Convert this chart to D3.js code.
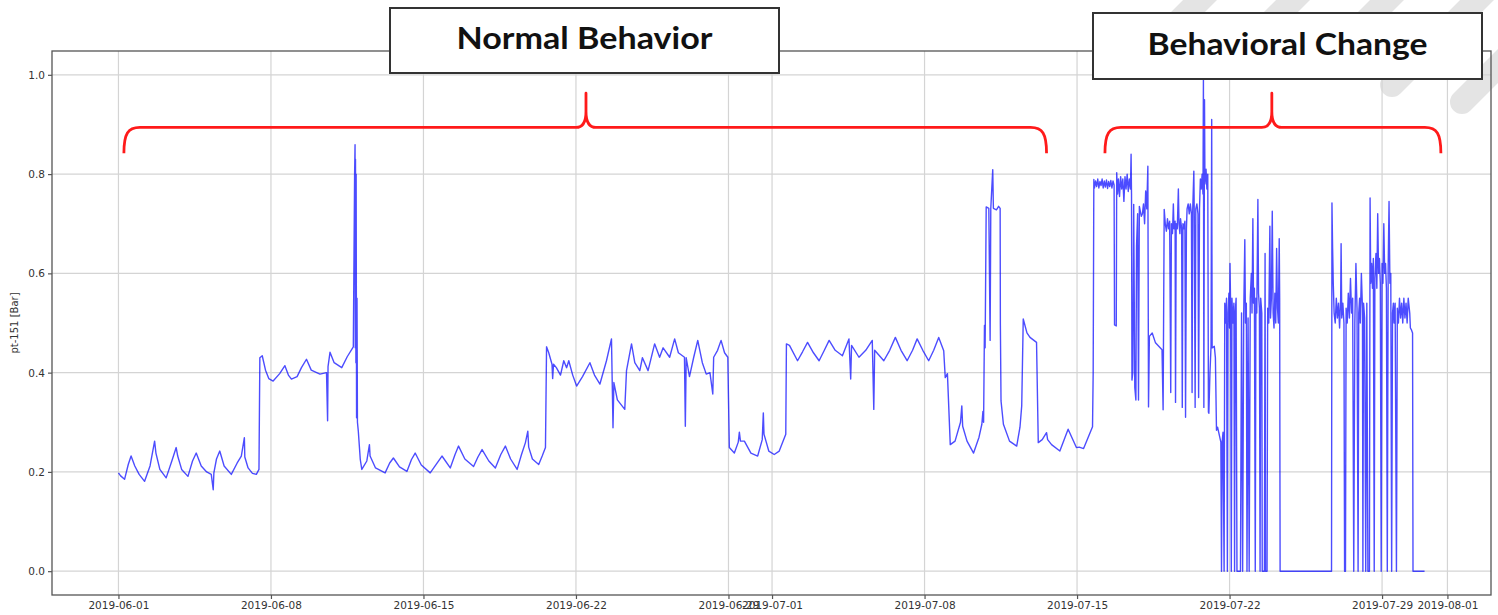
<!DOCTYPE html>
<html>
<head>
<meta charset="utf-8">
<script src="https://cdn.jsdelivr.net/npm/d3@7"></script>
<style>
  body { margin: 0; background: #fff; }
  svg { display: block; }
</style>
</head>
<body>
<svg width="1498" height="615"></svg>
<script>
const svg = d3.select("svg");

// DATA: [days since 2019-06-01, pt-151 value]
const normalPhase = [
  [0.00,0.198],[0.10,0.192],[0.28,0.185],[0.45,0.215],[0.58,0.232],[0.75,0.212],[0.95,0.195],[1.20,0.181],
  [1.45,0.212],[1.66,0.262],[1.72,0.238],[1.90,0.205],[2.19,0.188],[2.45,0.222],[2.65,0.249],[2.72,0.232],
  [2.90,0.205],[3.19,0.191],[3.40,0.222],[3.57,0.238],[3.80,0.212],[4.05,0.200],[4.26,0.195],[4.35,0.164],
  [4.38,0.198],[4.50,0.226],[4.65,0.242],[4.85,0.212],[5.18,0.195],[5.45,0.218],[5.64,0.232],[5.78,0.269],
  [5.80,0.230],[5.95,0.208],[6.15,0.197],[6.33,0.195],[6.45,0.205],[6.49,0.430],[6.60,0.434],[6.75,0.405],
  [6.90,0.388],[7.10,0.383],[7.40,0.398],[7.64,0.414],[7.80,0.395],[7.94,0.387],[8.20,0.392],[8.40,0.410],
  [8.63,0.427],[8.85,0.405],[9.25,0.397],[9.55,0.400],[9.60,0.303],[9.62,0.412],[9.71,0.441],[9.90,0.420],
  [10.25,0.410],[10.50,0.432],[10.78,0.452],[10.84,0.800],[10.86,0.859],[10.87,0.450],[10.88,0.830],[10.90,0.420],
  [10.91,0.800],[10.93,0.309],[10.95,0.550],[10.97,0.300],[11.01,0.282],[11.10,0.225],[11.17,0.205],[11.40,0.222],
  [11.52,0.255],[11.55,0.232],[11.80,0.208],[12.24,0.198],[12.45,0.218],[12.62,0.228],[12.90,0.210],[13.24,0.201],
  [13.45,0.225],[13.62,0.238],[13.90,0.214],[14.31,0.198],[14.60,0.216],[14.85,0.232],[15.23,0.208],[15.45,0.235],
  [15.61,0.252],[15.90,0.226],[16.30,0.211],[16.50,0.230],[16.69,0.245],[17.00,0.222],[17.30,0.208],[17.55,0.235],
  [17.76,0.252],[18.00,0.226],[18.30,0.205],[18.50,0.235],[18.68,0.259],[18.79,0.282],[18.83,0.250],[19.00,0.226],
  [19.29,0.215],[19.45,0.232],[19.60,0.249],[19.65,0.452],[19.75,0.440],[19.90,0.417],[19.93,0.388],[19.97,0.417],
  [20.10,0.410],[20.29,0.395],[20.44,0.424],[20.57,0.410],[20.67,0.424],[20.85,0.395],[21.03,0.373],[21.30,0.392],
  [21.64,0.420],[21.85,0.395],[22.10,0.377],[22.40,0.424],[22.63,0.468],[22.70,0.289],[22.74,0.380],[22.90,0.345],
  [23.24,0.326],[23.32,0.404],[23.55,0.458],[23.70,0.420],[23.93,0.404],[24.05,0.430],[24.31,0.404],[24.61,0.458],
  [24.84,0.431],[25.00,0.450],[25.30,0.431],[25.53,0.468],[25.70,0.440],[25.98,0.431],[26.02,0.292],[26.06,0.430],
  [26.21,0.392],[26.40,0.430],[26.59,0.465],[26.80,0.420],[26.98,0.397],[27.15,0.400],[27.28,0.357],[27.32,0.431],
  [27.50,0.445],[27.66,0.465],[27.82,0.440],[27.97,0.431],[28.00,0.350],[28.04,0.249],[28.27,0.238],[28.45,0.260],
  [28.50,0.280],[28.55,0.262],[28.73,0.262],[29.03,0.238],[29.34,0.232],[29.55,0.265],[29.60,0.319],[29.63,0.276],
  [29.85,0.242],[30.10,0.235],[30.33,0.242],[30.63,0.276],[30.66,0.458],[30.80,0.455],[31.17,0.424],[31.40,0.442],
  [31.63,0.461],[31.90,0.440],[32.16,0.424],[32.40,0.445],[32.62,0.465],[32.90,0.445],[33.23,0.434],[33.53,0.468],
  [33.61,0.387],[33.65,0.455],[33.99,0.431],[34.30,0.445],[34.60,0.465],[34.67,0.326],[34.71,0.445],[35.13,0.424],
  [35.40,0.445],[35.66,0.471],[35.92,0.445],[36.20,0.424],[36.45,0.445],[36.66,0.468],[36.92,0.445],[37.19,0.424],
  [37.42,0.445],[37.65,0.471],[37.88,0.444],[37.95,0.390],[38.05,0.398],[38.18,0.255],[38.40,0.262],[38.65,0.300],
  [38.71,0.333],[38.75,0.292],[38.95,0.262],[39.25,0.238],[39.50,0.270],[39.63,0.296],[39.68,0.322],[39.71,0.300],
  [39.75,0.495],[39.78,0.450],[39.83,0.734],[39.95,0.731],[40.01,0.465],[40.04,0.730],[40.13,0.809],[40.16,0.731],
  [40.30,0.728],[40.40,0.735],[40.47,0.731],[40.48,0.498],[40.51,0.343],[40.62,0.296],[40.90,0.262],[41.23,0.252],
  [41.38,0.290],[41.46,0.333],[41.53,0.508],[41.70,0.480],[41.84,0.471],[42.14,0.461],[42.22,0.259],[42.40,0.265],
  [42.60,0.279],[42.65,0.265],[42.83,0.255],[43.21,0.242],[43.45,0.270],[43.59,0.286],[43.97,0.249],[44.10,0.250],
  [44.30,0.247],[44.71,0.291]
];

const changePhase = [
  [44.74,0.400],[44.77,0.789],[44.80,0.772],[44.85,0.786],[44.90,0.775],[44.95,0.790],[45.00,0.772],[45.05,0.785],
  [45.10,0.777],[45.15,0.790],[45.20,0.772],[45.25,0.786],[45.30,0.774],[45.35,0.788],[45.40,0.771],[45.45,0.785],
  [45.50,0.775],[45.55,0.787],[45.60,0.772],[45.65,0.786],[45.70,0.778],[45.72,0.496],[45.80,0.494],[45.82,0.803],
  [45.86,0.760],[45.90,0.790],[45.95,0.755],[46.00,0.795],[46.05,0.770],[46.10,0.790],[46.15,0.745],[46.20,0.795],
  [46.25,0.770],[46.30,0.800],[46.35,0.765],[46.40,0.790],[46.45,0.770],[46.48,0.840],[46.50,0.760],[46.52,0.385],
  [46.56,0.400],[46.60,0.739],[46.65,0.370],[46.70,0.345],[46.73,0.655],[46.78,0.720],[46.82,0.345],[46.86,0.735],
  [46.95,0.715],[47.00,0.720],[47.05,0.740],[47.10,0.700],[47.15,0.766],[47.20,0.730],[47.25,0.816],[47.28,0.331],
  [47.32,0.473],[47.45,0.480],[47.60,0.460],[47.90,0.446],[47.95,0.325],[48.00,0.729],[48.05,0.700],[48.10,0.685],
  [48.15,0.710],[48.20,0.690],[48.25,0.705],[48.30,0.360],[48.33,0.700],[48.38,0.680],[48.42,0.740],[48.45,0.690],
  [48.50,0.705],[48.52,0.340],[48.55,0.700],[48.60,0.690],[48.65,0.770],[48.68,0.700],[48.72,0.680],[48.75,0.710],
  [48.80,0.690],[48.83,0.330],[48.86,0.700],[48.90,0.690],[48.95,0.705],[48.98,0.310],[49.02,0.690],[49.05,0.730],
  [49.10,0.740],[49.15,0.720],[49.20,0.740],[49.25,0.720],[49.28,0.360],[49.31,0.730],[49.36,0.806],[49.38,0.720],
  [49.42,0.330],[49.45,0.730],[49.50,0.740],[49.55,0.720],[49.58,0.350],[49.62,0.730],[49.66,0.790],[49.70,0.770],
  [49.74,0.800],[49.78,0.760],[49.80,0.990],[49.82,0.330],[49.85,0.950],[49.87,0.780],[49.92,0.810],[49.96,0.770],
  [50.00,0.800],[50.03,0.320],[50.05,0.318],[50.10,0.400],[50.15,0.453],[50.18,0.910],[50.20,0.450],[50.30,0.453],
  [50.35,0.430],[50.40,0.284],[50.45,0.290],[50.50,0.280],[50.55,0.270],[50.60,0.260],[50.63,0.000],[50.66,0.260],
  [50.70,0.280],[50.75,0.000],[50.78,0.540],[50.82,0.500],[50.86,0.550],[50.90,0.000],[50.93,0.520],[50.97,0.560],
  [51.00,0.490],[51.02,0.620],[51.05,0.530],[51.08,0.000],[51.11,0.550],[51.15,0.500],[51.20,0.540],[51.23,0.000],
  [51.26,0.520],[51.30,0.550],[51.34,0.000],[51.50,0.000],[51.55,0.520],[51.60,0.000],[51.65,0.520],[51.70,0.668],
  [51.73,0.500],[51.77,0.540],[51.80,0.000],[51.85,0.510],[51.90,0.000],[51.95,0.550],[52.00,0.600],[52.03,0.520],
  [52.07,0.710],[52.10,0.540],[52.14,0.570],[52.18,0.000],[52.21,0.550],[52.25,0.520],[52.30,0.749],[52.33,0.560],
  [52.37,0.530],[52.40,0.000],[52.43,0.550],[52.48,0.520],[52.50,0.000],[52.60,0.000],[52.63,0.640],[52.65,0.000],
  [52.72,0.000],[52.75,0.530],[52.80,0.500],[52.85,0.695],[52.88,0.510],[52.92,0.550],[52.96,0.725],[53.00,0.520],
  [53.04,0.490],[53.08,0.560],[53.12,0.500],[53.16,0.650],[53.20,0.530],[53.24,0.500],[53.28,0.670],[53.30,0.550],
  [53.32,0.000],[53.40,0.000],[55.68,0.000],[55.70,0.742],[55.73,0.650],[55.76,0.580],[55.80,0.520],[55.85,0.500],
  [55.90,0.550],[55.95,0.510],[56.00,0.540],[56.05,0.490],[56.10,0.550],[56.12,0.660],[56.15,0.510],[56.20,0.540],
  [56.25,0.500],[56.28,0.000],[56.32,0.000],[56.35,0.530],[56.40,0.500],[56.45,0.560],[56.50,0.510],[56.55,0.590],
  [56.60,0.520],[56.65,0.550],[56.70,0.000],[56.75,0.500],[56.80,0.620],[56.85,0.530],[56.90,0.000],[56.93,0.520],
  [56.97,0.550],[57.00,0.500],[57.05,0.600],[57.10,0.530],[57.12,0.000],[57.15,0.540],[57.20,0.510],[57.25,0.000],
  [57.30,0.540],[57.35,0.000],[57.42,0.000],[57.45,0.752],[57.48,0.580],[57.52,0.620],[57.56,0.570],[57.60,0.630],
  [57.64,0.000],[57.67,0.590],[57.72,0.640],[57.76,0.570],[57.80,0.720],[57.84,0.600],[57.88,0.630],[57.92,0.580],
  [57.96,0.000],[58.00,0.620],[58.04,0.580],[58.08,0.700],[58.12,0.600],[58.16,0.620],[58.20,0.570],[58.24,0.000],
  [58.28,0.610],[58.32,0.745],[58.36,0.580],[58.40,0.600],[58.44,0.000],[58.48,0.520],[58.52,0.540],[58.55,0.500],
  [58.60,0.540],[58.66,0.000],[58.70,0.530],[58.75,0.500],[58.80,0.550],[58.85,0.510],[58.90,0.540],[58.95,0.500],
  [59.00,0.550],[59.05,0.510],[59.10,0.540],[59.15,0.500],[59.20,0.550],[59.27,0.520],[59.30,0.490],[59.35,0.486],
  [59.40,0.480],[59.42,0.000],[59.95,0.000]
];

const tickLabels = ["2019-06-01", "2019-06-08", "2019-06-15", "2019-06-22", "2019-06-29", "2019-07-01",
                    "2019-07-08", "2019-07-15", "2019-07-22", "2019-07-29", "2019-08-01"];
const yTicks = [0.0, 0.2, 0.4, 0.6, 0.8, 1.0];

// annotation spans in days since 2019-06-01
const phaseLabels = ["Normal Behavior", "Behavioral Change"];
const braceSpans = [[0.25, 21.46, 42.6], [45.28, 52.94, 60.7]];

// LAYOUT
const plot = { left: 52, right: 1491, top: 51, bottom: 595 };
const origin = Date.UTC(2019, 5, 1);
const dayToDate = d => new Date(origin + d * 864e5);

const x = d3.scaleUtc()
  .domain([dayToDate(-3.05), dayToDate(63.0)])
  .range([plot.left, plot.right]);

const y = d3.scaleLinear()
  .domain([-0.048, 1.048])
  .range([plot.bottom, plot.top]);

const parse = d3.utcParse("%Y-%m-%d");
const tickDates = tickLabels.map(parse);

// BACKGROUND STRIPES (slide decoration)
const stripes = [[1172, 28], [1246, 47], [1320, 67], [1392, 85], [1462, 102]];
svg.append("g")
  .selectAll("line")
  .data(stripes)
  .enter()
  .append("line")
  .attr("x1", d => d[0])
  .attr("y1", d => d[1])
  .attr("x2", d => d[0] + 140)
  .attr("y2", d => d[1] - 140)
  .attr("stroke", "#e4e4e4")
  .attr("stroke-width", 24)
  .attr("stroke-linecap", "round");

// GRID
svg.append("g")
  .selectAll("line")
  .data(tickDates)
  .enter()
  .append("line")
  .attr("x1", d => x(d)).attr("x2", d => x(d))
  .attr("y1", plot.top).attr("y2", plot.bottom)
  .attr("stroke", "#d4d4d4")
  .attr("stroke-width", 1.2);

svg.append("g")
  .selectAll("line")
  .data(yTicks)
  .enter()
  .append("line")
  .attr("x1", plot.left).attr("x2", plot.right)
  .attr("y1", d => y(d)).attr("y2", d => y(d))
  .attr("stroke", "#d4d4d4")
  .attr("stroke-width", 1.2);

// LINE
const series = normalPhase.concat(changePhase);
const line = d3.line()
  .x(d => x(dayToDate(d[0])))
  .y(d => y(d[1]));

svg.append("path")
  .datum(series)
  .attr("d", line)
  .attr("fill", "none")
  .attr("stroke", "#0000ff")
  .attr("stroke-opacity", 0.7)
  .attr("stroke-width", 1.4)
  .attr("stroke-linejoin", "round");

// FRAME
svg.append("rect")
  .attr("x", plot.left).attr("y", plot.top)
  .attr("width", plot.right - plot.left)
  .attr("height", plot.bottom - plot.top)
  .attr("fill", "none")
  .attr("stroke", "#555")
  .attr("stroke-width", 1.3);

// AXES
const xAxis = svg.append("g")
  .attr("transform", `translate(0,${plot.bottom})`)
  .call(d3.axisBottom(x).tickValues(tickDates).tickFormat(d3.utcFormat("%Y-%m-%d")).tickSize(4).tickPadding(3));

const yAxis = svg.append("g")
  .attr("transform", `translate(${plot.left},0)`)
  .call(d3.axisLeft(y).tickValues(yTicks).tickFormat(d3.format(".1f")).tickSize(4).tickPadding(3));

[xAxis, yAxis].forEach(g => {
  g.select(".domain").remove();
  g.selectAll(".tick line").attr("stroke", "#555").attr("stroke-width", 1.2);
  g.selectAll(".tick text")
    .attr("fill", "#333")
    .attr("font-family", "'DejaVu Sans', sans-serif")
    .attr("font-size", "10.5px");
});

svg.append("text")
  .attr("transform", `translate(18,${(plot.top + plot.bottom) / 2}) rotate(-90)`)
  .attr("text-anchor", "middle")
  .attr("font-family", "'DejaVu Sans', sans-serif")
  .attr("font-size", "10px")
  .attr("fill", "#333")
  .text("pt-151 [Bar]");

// BRACES
const braceLevels = { base: 0.842, flat: 0.894, peak: 0.963 };
function bracePath(span) {
  const x0 = x(dayToDate(span[0])), xm = x(dayToDate(span[1])), x1 = x(dayToDate(span[2]));
  const yb = y(braceLevels.base), yf = y(braceLevels.flat), yp = y(braceLevels.peak);
  const r = 16, m = 10;
  return `M${x0},${yb} C${x0},${yf + 6} ${x0 + 4},${yf} ${x0 + r},${yf}` +
    ` L${xm - m},${yf} Q${xm},${yf} ${xm},${yf - 16} L${xm},${yp}` +
    ` L${xm},${yf - 16} Q${xm},${yf} ${xm + m},${yf}` +
    ` L${x1 - r},${yf} C${x1 - 4},${yf} ${x1},${yf + 6} ${x1},${yb}`;
}

svg.append("g")
  .selectAll("path")
  .data(braceSpans)
  .enter()
  .append("path")
  .attr("d", bracePath)
  .attr("fill", "none")
  .attr("stroke", "#ff1a1a")
  .attr("stroke-width", 2.8)
  .attr("stroke-linejoin", "round");

// LABEL BOXES
const boxes = [
  { x: 390, y: 8, w: 389, h: 65, baseline: 49, textW: 256 },
  { x: 1093, y: 13, w: 389, h: 66, baseline: 55, textW: 280 }
];

const labels = svg.append("g")
  .selectAll("g")
  .data(boxes)
  .enter()
  .append("g");

labels.append("rect")
  .attr("x", d => d.x).attr("y", d => d.y)
  .attr("width", d => d.w).attr("height", d => d.h)
  .attr("fill", "#fff")
  .attr("stroke", "#333")
  .attr("stroke-width", 2);

labels.append("text")
  .attr("x", d => d.x + d.w / 2)
  .attr("y", d => d.baseline)
  .attr("text-anchor", "middle")
  .attr("font-family", "Lato, 'Open Sans', sans-serif")
  .attr("font-weight", "bold")
  .attr("font-size", "31px")
  .attr("textLength", d => d.textW)
  .attr("lengthAdjust", "spacingAndGlyphs")
  .attr("fill", "#111")
  .text((d, i) => phaseLabels[i]);
</script>
</body>
</html>
